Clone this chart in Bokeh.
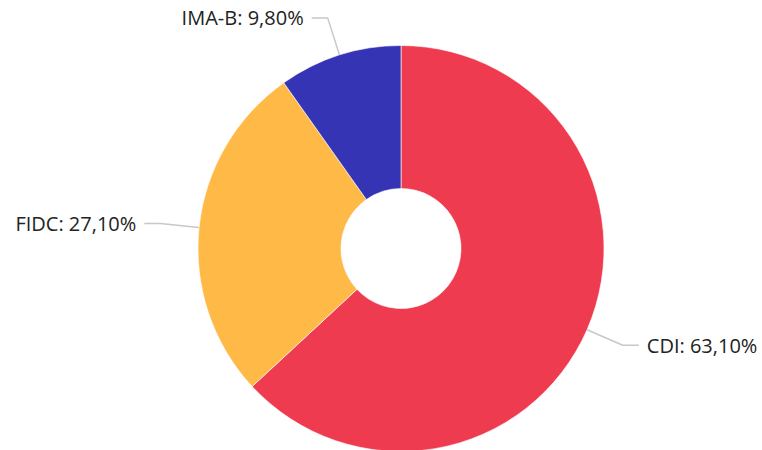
import math
from bokeh.plotting import figure
from bokeh.models import Range1d, ColumnDataSource
from bokeh.core.properties import value
from bokeh.embed import file_html
from bokeh.resources import INLINE

categories = ["CDI", "FIDC", "IMA-B"]
shares = [63.10, 27.10, 9.80]
labels = ["CDI: 63,10%", "FIDC: 27,10%", "IMA-B: 9,80%"]
colors = ["#EF3B4F", "#FFB946", "#3434B4"]

W, H = 762, 450
p = figure(width=W, height=H, output_backend="svg", toolbar_location=None,
           x_range=Range1d(0, W), y_range=Range1d(0, H),
           min_border=0, outline_line_color=None)
p.axis.visible = False
p.grid.visible = False
p.background_fill_color = "white"

cx, cy = 400.5, H - 248
r_out, r_in = 203, 60

total = sum(shares)
starts, ends, mids = [], [], []
acc = 0.0
for s in shares:
    a0 = math.pi / 2 - acc / total * 2 * math.pi
    acc += s
    a1 = math.pi / 2 - acc / total * 2 * math.pi
    starts.append(a0)
    ends.append(a1)
    mids.append((a0 + a1) / 2)

src = ColumnDataSource(dict(start=starts, end=ends, color=colors))
p.annular_wedge(x=cx, y=cy, inner_radius=r_in, outer_radius=r_out,
                start_angle="start", end_angle="end", direction="clock",
                fill_color="color", line_color="white", line_width=1,
                line_alpha=0.6, source=src)

r_elbow = 242
seg = 16
gap = 8
lx, ly, tx, ty, ta = [], [], [], [], []
for m in mids:
    x0 = cx + r_out * math.cos(m)
    y0 = cy + r_out * math.sin(m)
    x1 = cx + r_elbow * math.cos(m)
    y1 = cy + r_elbow * math.sin(m)
    sgn = 1 if math.cos(m) >= 0 else -1
    x2 = x1 + sgn * seg
    lx.append([x0, x1, x2])
    ly.append([y0, y1, y1])
    tx.append(x2 + sgn * gap)
    ty.append(y1)
    ta.append("left" if sgn > 0 else "right")

p.multi_line(xs=lx, ys=ly, line_color="#C8C8C8", line_width=1.5)
p.text(x=tx, y=ty, text=labels, text_align=ta, text_baseline="middle",
       text_font=value("Open Sans"), text_font_size="20px", text_color="#222222")

open("out.html", "w").write(file_html(p, INLINE))
